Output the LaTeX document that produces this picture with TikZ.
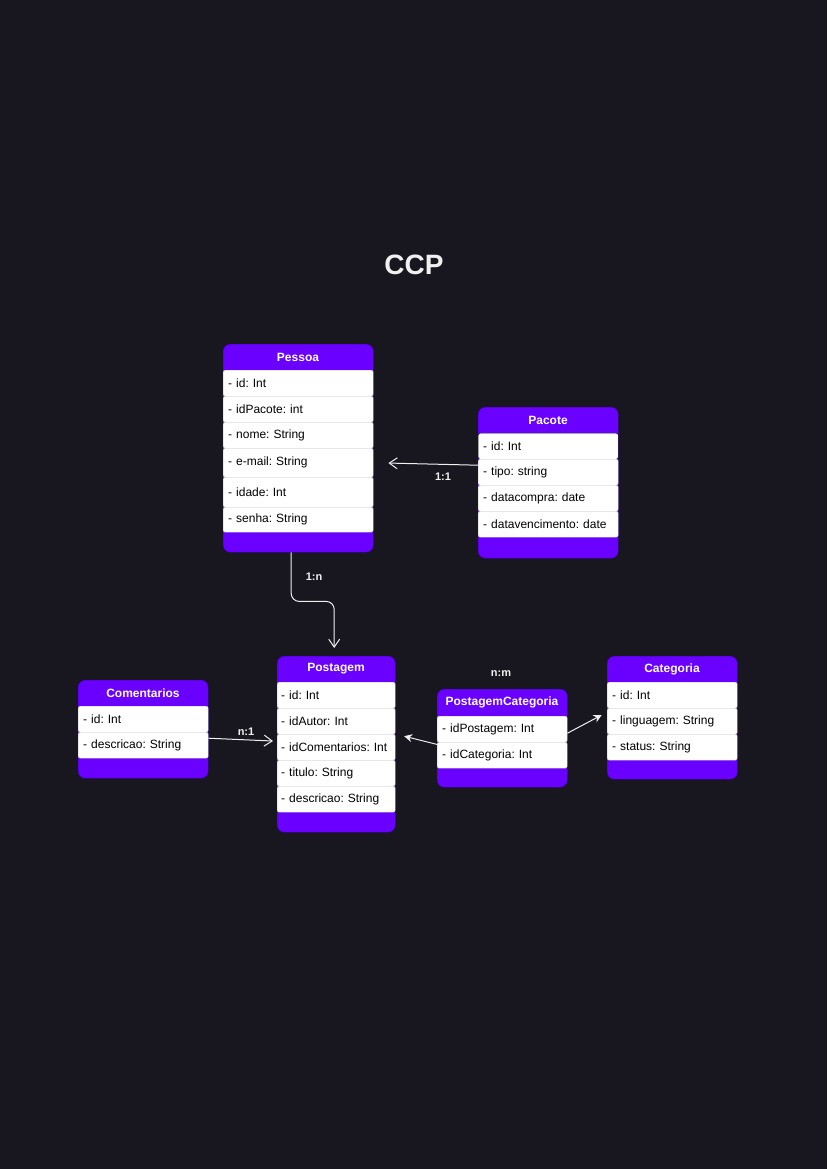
\documentclass[tikz,border=0pt]{standalone}
\usepackage{fontspec}
\setmainfont{Liberation Sans}
\usetikzlibrary{arrows.meta}
\definecolor{bg}{RGB}{24,22,31}
\definecolor{purp}{RGB}{106,0,255}
\definecolor{purpline}{RGB}{60,0,200}
\definecolor{rowline}{RGB}{190,190,190}
\definecolor{lnk}{RGB}{240,240,240}
\frenchspacing
\begin{document}
\begin{tikzpicture}[x=1pt,y=-1pt,
 cls/.style={draw=purpline, fill=purp, rounded corners=7, inner sep=0, anchor=north west},
 hd/.style={text=white, font=\frenchspacing\bfseries\fontsize{12}{14}\selectfont, inner sep=0},
 rw/.style={draw=rowline, fill=white, rounded corners=2, anchor=north west, inner ysep=0, inner xsep=5, align=left, text=black, font=\frenchspacing\fontsize{12}{14}\selectfont, minimum height=26},
 conn/.style={draw=lnk, line width=1},
 openarr/.style={-{Straight Barb[length=8pt,width=11pt]}},
 fillarr/.style={-{Stealth[length=8pt,width=8pt]}},
 lbl/.style={text=lnk, font=\bfseries\fontsize{11}{13}\selectfont, inner sep=0},
]
\fill[bg] (0,0) rectangle (827,1169);
\useasboundingbox (0,0) rectangle (827,1169);

\node[text=lnk, font=\bfseries\fontsize{28}{32}\selectfont, inner sep=0] (title) at (414,265) {CCP};

% Pessoa
\node[cls, minimum width=150, minimum height=208] (pessoa) at (223,344) {};
\node[hd] (pessoaT) at (298,357) {Pessoa};
\node[rw, text width=140pt] (pid) at (223,370) {- id: Int};
\node[rw, text width=140pt] (ppac) at (223,396) {- idPacote: int};
\node[rw, text width=140pt] (pnome) at (223,422) {- nome: String};
\node[rw, text width=140pt, minimum height=29] (pemail) at (223,448) {- e-mail: String};
\node[rw, text width=140pt, minimum height=30] (pidade) at (223,477) {- idade: Int};
\node[rw, text width=140pt, minimum height=25] (psenha) at (223,507) {- senha: String};

% Pacote
\node[cls, minimum width=140, minimum height=151] (pacote) at (478,407) {};
\node[hd] (pacoteT) at (548,420) {Pacote};
\node[rw, text width=130pt, draw=black] (kid) at (478,433) {- id: Int};
\node[rw, text width=130pt] (ktipo) at (478,459) {- tipo: string};
\node[rw, text width=130pt] (kcompra) at (478,485) {- datacompra: date};
\node[rw, text width=130pt] (kvenc) at (478,511) {- datavencimento: date};

% Comentarios
\node[cls, minimum width=130, minimum height=98] (coment) at (78,680) {};
\node[hd] (comentT) at (143,693) {Comentarios};
\node[rw, text width=120pt] (cid) at (78,706) {- id: Int};
\node[rw, text width=120pt] (cdesc) at (78,732) {- descricao: String};

% Postagem
\node[cls, minimum width=118, minimum height=176] (postagem) at (277,656) {};
\node[hd] (postagemT) at (336,669) {Postagem};
\node[rw, text width=110pt, inner xsep=4] (sid) at (277,682) {- id: Int};
\node[rw, text width=110pt, inner xsep=4] (saut) at (277,708) {- idAutor: Int};
\node[rw, text width=110pt, inner xsep=4] (scom) at (277,734) {- idComentarios: Int};
\node[rw, text width=110pt, inner xsep=4] (stit) at (277,760) {- titulo: String};
\node[rw, text width=110pt, inner xsep=4] (sdesc) at (277,786) {- descricao: String};

% PostagemCategoria
\node[cls, minimum width=130, minimum height=98] (pc) at (437,689) {};
\node[hd] (pcT) at (502,702) {PostagemCategoria};
\node[rw, text width=120pt] (pcpost) at (437,716) {- idPostagem: Int};
\node[rw, text width=120pt] (pccat) at (437,742) {- idCategoria: Int};

% Categoria
\node[cls, minimum width=130, minimum height=123] (categ) at (607,656) {};
\node[hd] (categT) at (672,669) {Categoria};
\node[rw, text width=120pt] (gid) at (607,682) {- id: Int};
\node[rw, text width=120pt] (gling) at (607,708) {- linguagem: String};
\node[rw, text width=120pt] (gstat) at (607,734) {- status: String};

% connectors
\draw[conn, openarr, shorten >=15pt] ([yshift=7pt]ktipo.west) -- (pemail.east);
\node[lbl] (l11) at (443,477) {1:1};

\draw[conn, openarr, rounded corners=8, shorten >=8pt] ([xshift=-7pt]pessoa.south) -- ++(0,49) -| ([xshift=-2pt]postagem.north);
\node[lbl] (l1n) at (314,577) {1:n};

\draw[conn, openarr, shorten >=4pt] ([yshift=7pt]cdesc.east) -- ([yshift=6pt]scom.west);
\node[lbl] (ln1) at (246,732) {n:1};

\draw[conn, fillarr, shorten >=9pt] ([yshift=-2pt]pcpost.south west) -- (scom.north east);
\draw[conn, fillarr, shorten >=6pt] ([yshift=-4pt]pcpost.east) -- ([yshift=9pt]gling.west);
\node[lbl] (lnm) at (501,674) {n:m};
\end{tikzpicture}
\end{document}
